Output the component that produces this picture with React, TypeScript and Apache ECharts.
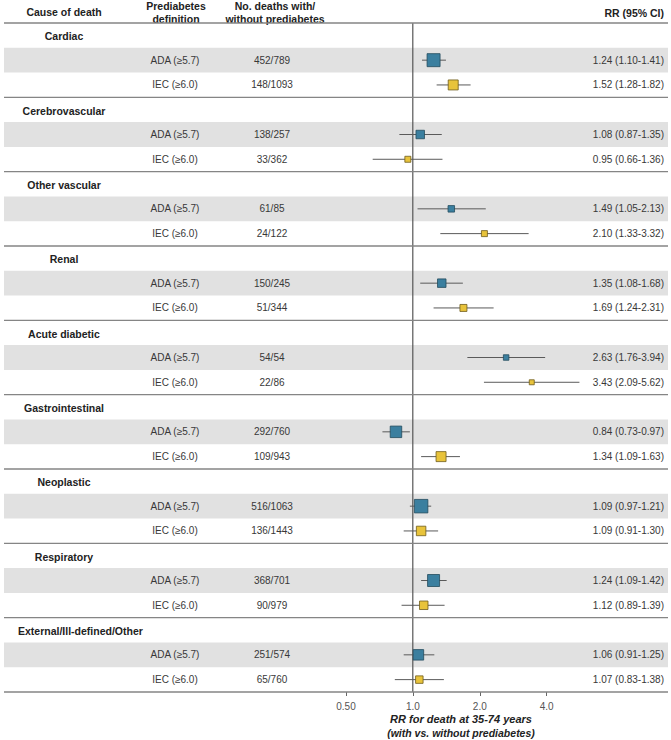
import React, { useEffect, useRef } from "react";
import * as echarts from "echarts";

const causes = [
  "Cardiac",
  "Cerebrovascular",
  "Other vascular",
  "Renal",
  "Acute diabetic",
  "Gastrointestinal",
  "Neoplastic",
  "Respiratory",
  "External/Ill-defined/Other",
];
const definitions = ["ADA (≥5.7)", "IEC (≥6.0)"];

const adaDeaths = ["452/789", "138/257", "61/85", "150/245", "54/54", "292/760", "516/1063", "368/701", "251/574"];
const iecDeaths = ["148/1093", "33/362", "24/122", "51/344", "22/86", "109/943", "136/1443", "90/979", "65/760"];

const adaRR = [1.24, 1.08, 1.49, 1.35, 2.63, 0.84, 1.09, 1.24, 1.06];
const adaLo = [1.1, 0.87, 1.05, 1.08, 1.76, 0.73, 0.97, 1.09, 0.91];
const adaHi = [1.41, 1.35, 2.13, 1.68, 3.94, 0.97, 1.21, 1.42, 1.25];

const iecRR = [1.52, 0.95, 2.1, 1.69, 3.43, 1.34, 1.09, 1.12, 1.07];
const iecLo = [1.28, 0.66, 1.33, 1.24, 2.09, 1.09, 0.91, 0.89, 0.83];
const iecHi = [1.82, 1.36, 3.32, 2.31, 5.62, 1.63, 1.3, 1.39, 1.38];

// marker weights (box side)
const adaWeight = [13, 8.5, 6.5, 8.5, 5.5, 11.5, 13.5, 12, 10.5];
const iecWeight = [10, 6, 6, 7, 5, 10, 9.5, 8.5, 7.5];

const FONT = '"Liberation Sans", Arial, Helvetica, sans-serif';
const X_MIN = Math.pow(2, -6.1106);
const X_MAX = Math.pow(2, 3.8146);
const HEAD_SIZE = 10.5;

const rowNames: string[] = [];
causes.forEach((c) => {
  rowNames.push(c, c + " ADA", c + " IEC");
});

type Measure = {
  row: number;
  def: number;
  deaths: string;
  rr: number;
  lo: number;
  hi: number;
  w: number;
};
const measures: Measure[] = [];
causes.forEach((c, i) => {
  measures.push({ row: 3 * i + 1, def: 0, deaths: adaDeaths[i], rr: adaRR[i], lo: adaLo[i], hi: adaHi[i], w: adaWeight[i] });
  measures.push({ row: 3 * i + 2, def: 1, deaths: iecDeaths[i], rr: iecRR[i], lo: iecLo[i], hi: iecHi[i], w: iecWeight[i] });
});

const fills = ["#3b7f9f", "#e8c33b"];
const strokes = ["#234b5d", "#6e5c1c"];

let measureCtx: CanvasRenderingContext2D | null = null;
function textWidth(t: string, font: string) {
  if (!measureCtx) measureCtx = document.createElement("canvas").getContext("2d");
  if (!measureCtx) return t.length * 6;
  measureCtx.font = font;
  return measureCtx.measureText(t).width;
}

export default function App() {
  const ref = useRef<HTMLDivElement>(null);
  useEffect(() => {
    document.body.style.margin = "0";
    if (!ref.current) return;
    const chart = echarts.init(ref.current, undefined, { renderer: "svg" });
    const lineColor = "#858585";
    const head = { fontSize: HEAD_SIZE, fontWeight: "bold", fontFamily: FONT, fill: "#222", verticalAlign: "middle" };
    const option: any = {
      animation: false,
      backgroundColor: "#ffffff",
      grid: [
        { left: 4, right: 3, top: 23, height: 669 },
        { left: 346, width: 200.7, top: 691, height: 1 },
      ],
      xAxis: [
        { type: "log", logBase: 2, min: X_MIN, max: X_MAX, gridIndex: 0, show: false },
        {
          type: "log",
          logBase: 2,
          min: 0.5,
          max: 4,
          splitNumber: 3,
          gridIndex: 1,
          axisLine: { show: false },
          axisTick: { show: true, length: 4, lineStyle: { color: "#666", width: 1 } },
          splitLine: { show: false },
          axisLabel: {
            margin: 9,
            color: "#555",
            fontSize: 10,
            fontFamily: FONT,
            formatter: (v: number) => (v < 0.99 ? v.toFixed(2) : v.toFixed(1)),
          },
        },
      ],
      yAxis: [
        { type: "category", data: rowNames, inverse: true, show: false, gridIndex: 0 },
        { type: "value", show: false, gridIndex: 1 },
      ],
      graphic: [
        { type: "text", x: 64, y: 12, style: { ...head, text: "Cause of death", align: "center" } },
        { type: "text", x: 176, y: 12.5, style: { ...head, text: "Prediabetes\ndefinition", align: "center", lineHeight: 13 } },
        { type: "text", x: 275, y: 12.5, style: { ...head, text: "No. deaths with/\nwithout prediabetes", align: "center", lineHeight: 13 } },
        { type: "text", x: 664, y: 13, style: { ...head, text: "RR (95% CI)", align: "right" } },
        { type: "text", x: 461, y: 719, style: { ...head, fontSize: 11, text: "RR for death at 35-74 years", align: "center", fontStyle: "italic" } },
        { type: "text", x: 461, y: 733, style: { ...head, text: "(with vs. without prediabetes)", align: "center", fontStyle: "italic" } },
      ],
      series: [
        {
          type: "custom",
          name: "bands",
          coordinateSystem: "cartesian2d",
          xAxisIndex: 0,
          yAxisIndex: 0,
          silent: true,
          z: 1,
          encode: { x: 0, y: 1 },
          data: measures.filter((m) => m.def === 0).map((m) => [m.rr, m.row]),
          renderItem: (params: any, api: any) => {
            const cs = params.coordSys;
            const y = api.coord([api.value(0), api.value(1)])[1];
            const h = api.size([0, 1])[1];
            return {
              type: "rect",
              shape: { x: cs.x, y: y - h / 2, width: cs.width, height: h },
              style: { fill: "#e1e1e1" },
            };
          },
        },
        {
          type: "custom",
          name: "reference",
          coordinateSystem: "cartesian2d",
          xAxisIndex: 0,
          yAxisIndex: 0,
          silent: true,
          z: 2,
          encode: { x: 0, y: 1 },
          data: [[1, 0]],
          renderItem: (params: any, api: any) => {
            const cs = params.coordSys;
            const x = api.coord([api.value(0), api.value(1)])[0];
            return {
              type: "line",
              shape: { x1: x, y1: cs.y, x2: x, y2: cs.y + cs.height },
              style: { stroke: "#555", lineWidth: 1.2 },
            };
          },
        },
        {
          type: "custom",
          name: "titles",
          coordinateSystem: "cartesian2d",
          xAxisIndex: 0,
          yAxisIndex: 0,
          silent: true,
          z: 3,
          encode: { x: 0, y: 1 },
          data: causes.map((c, i) => [1, 3 * i]),
          renderItem: (params: any, api: any) => {
            const cs = params.coordSys;
            const y = api.coord([api.value(0), api.value(1)])[1];
            const h = api.size([0, 1])[1];
            const txt = causes[params.dataIndex];
            const w = textWidth(txt, `bold ${HEAD_SIZE}px ${FONT}`);
            const cx = Math.max(64, 18 + w / 2);
            return {
              type: "group",
              children: [
                {
                  type: "line",
                  shape: { x1: cs.x, y1: y - h / 2, x2: cs.x + cs.width, y2: y - h / 2 },
                  style: { stroke: lineColor, lineWidth: 1.4 },
                },
                {
                  type: "text",
                  x: cx,
                  y: y + 1,
                  style: { ...head, text: txt, align: "center" },
                },
              ],
            };
          },
        },
        {
          type: "custom",
          name: "estimates",
          coordinateSystem: "cartesian2d",
          xAxisIndex: 0,
          yAxisIndex: 0,
          silent: true,
          z: 4,
          encode: { x: 0, y: 1 },
          data: measures.map((m) => [m.rr, m.row, m.lo, m.hi, m.w]),
          renderItem: (params: any, api: any) => {
            const cs = params.coordSys;
            const m = measures[params.dataIndex];
            const row = api.value(1);
            const c = api.coord([api.value(0), row]);
            const lo = api.coord([api.value(2), row]);
            const hi = api.coord([api.value(3), row]);
            const h = api.size([0, 1])[1];
            const s = api.value(4);
            const rrText = `${m.rr.toFixed(2)} (${m.lo.toFixed(2)}-${m.hi.toFixed(2)})`;
            const textStyle = { fontSize: 10, fontFamily: FONT, fill: "#383838", verticalAlign: "middle" };
            const children: any[] = [
              {
                type: "line",
                shape: { x1: lo[0], y1: c[1], x2: hi[0], y2: c[1] },
                style: { stroke: "#5a5a5a", lineWidth: 1 },
              },
              {
                type: "rect",
                shape: { x: c[0] - s / 2, y: c[1] - s / 2, width: s, height: s },
                style: { fill: fills[m.def], stroke: strokes[m.def], lineWidth: 0.8 },
              },
              { type: "text", x: 175, y: c[1], style: { ...textStyle, text: definitions[m.def], align: "center" } },
              { type: "text", x: 272, y: c[1], style: { ...textStyle, text: m.deaths, align: "center" } },
              { type: "text", x: 664, y: c[1], style: { ...textStyle, text: rrText, align: "right" } },
            ];
            if (params.dataIndex === measures.length - 1) {
              children.push({
                type: "line",
                shape: { x1: cs.x, y1: c[1] + h / 2, x2: cs.x + cs.width, y2: c[1] + h / 2 },
                style: { stroke: lineColor, lineWidth: 1.4 },
              });
            }
            return { type: "group", children };
          },
        },
      ],
    };
    chart.setOption(option);
    return () => chart.dispose();
  }, []);
  return <div ref={ref} style={{ width: 671, height: 740 }} />;
}
